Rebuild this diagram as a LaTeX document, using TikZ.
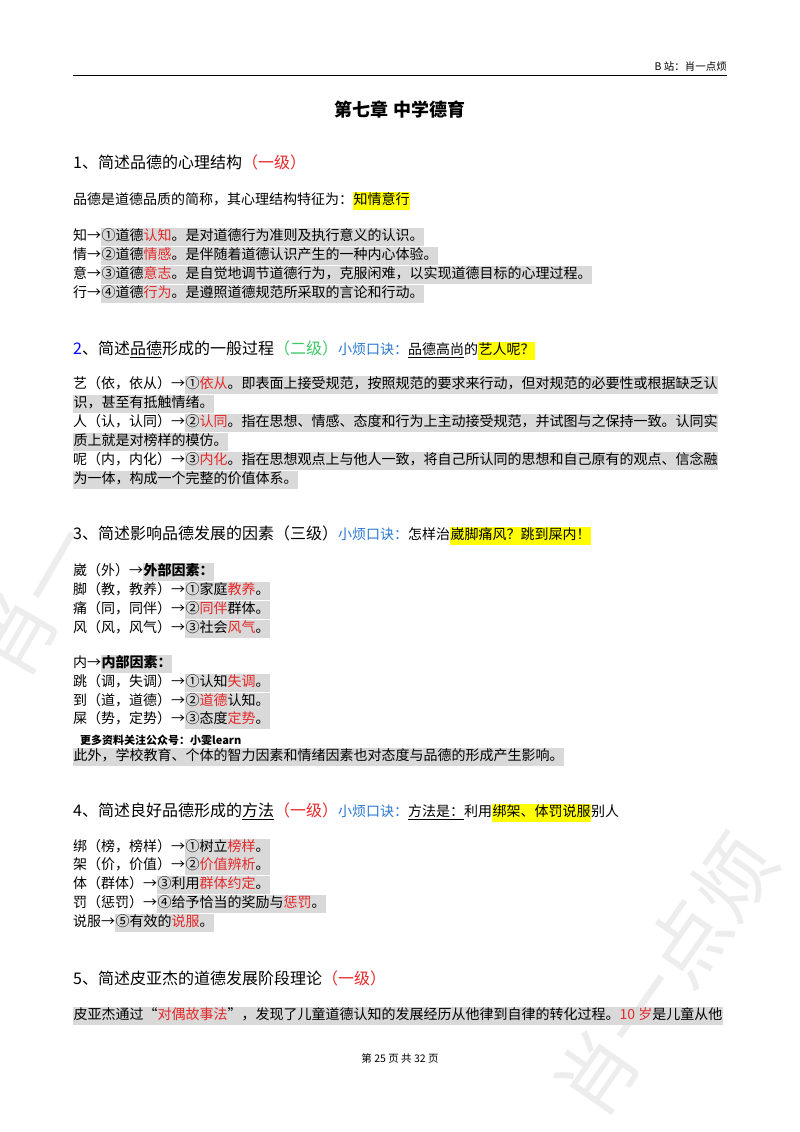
\documentclass[tikz,border=0pt]{standalone}
\usepackage{fontspec}
\setmainfont{Noto Sans CJK SC}
\definecolor{hlgray}{RGB}{217,217,217}
\definecolor{kred}{RGB}{230,40,40}
\definecolor{kblue}{RGB}{40,120,210}
\definecolor{kgreen}{RGB}{60,200,100}
\definecolor{kyel}{RGB}{255,255,0}
\newcommand{\hg}[1]{{\setlength{\fboxsep}{0.5pt}\colorbox{hlgray}{\strut #1}}}
\newcommand{\hy}[1]{{\setlength{\fboxsep}{0.5pt}\colorbox{kyel}{\strut #1}}}
\newcommand{\rd}[1]{\textcolor{kred}{#1}}
\newcommand{\bodysz}{\fontsize{14}{16}\selectfont}
\begin{document}
\begin{tikzpicture}[x=1pt,y=1pt,
  ln/.style={anchor=west,inner sep=0pt,font=\bodysz},
  hd/.style={anchor=west,inner sep=0pt,font=\fontsize{16}{18}\selectfont},
  wm/.style={text=black!7,font=\fontsize{80}{80}\selectfont}]
\useasboundingbox[fill=white] (0,0) rectangle (800,-1132);
\node[wm,rotate=60] (w1) at (35,-600) {肖一};
\node[wm,rotate=55] (w2) at (665,-975) {肖一点烦};
\node[anchor=east,inner sep=0pt,font=\fontsize{10.5}{12}\selectfont] (hdr) at (727,-67) {B 站：肖一点烦};
\draw[line width=0.6pt] (73,-75) -- (727,-75);
\node[inner sep=0pt,font=\fontsize{18}{20}\selectfont\bfseries] (title) at (400,-110) {第七章\ 中学德育};
\node[hd] (h1) at (73,-162) {1、简述品德的心理结构\rd{（一级）}};
\node[ln] (a0) at (73,-201) {品德是道德品质的简称，其心理结构特征为：\hy{知情意行}};
\node[ln] (a1) at (73,-237) {知→\hg{①道德\rd{认知}。是对道德行为准则及执行意义的认识。}};
\node[ln] (a2) at (73,-256) {情→\hg{②道德\rd{情感}。是伴随着道德认识产生的一种内心体验。}};
\node[ln] (a3) at (73,-275) {意→\hg{③道德\rd{意志}。是自觉地调节道德行为，克服闲难，以实现道德目标的心理过程。}};
\node[ln] (a4) at (73,-294) {行→\hg{④道德\rd{行为}。是遵照道德规范所采取的言论和行动。}};
\node[hd] (h2) at (73,-350) {\textcolor{blue}{2}、简述\underline{品德}形成的一般过程\textcolor{kgreen}{（二级）}\textcolor{kblue}{\bodysz 小烦口诀：}{\bodysz\underline{品德高尚}的\hy{艺人呢？}}};
\node[ln] (b1) at (73,-385) {艺（依，依从）→\hg{①\rd{依从}。即表面上接受规范，按照规范的要求来行动，但对规范的必要性或根据缺乏认}};
\node[ln] (b1b) at (73,-404) {\hg{识，甚至有抵触情绪。}};
\node[ln] (b2) at (73,-423) {人（认，认同）→\hg{②\rd{认同}。指在思想、情感、态度和行为上主动接受规范，并试图与之保持一致。认同实}};
\node[ln] (b2b) at (73,-442) {\hg{质上就是对榜样的模仿。}};
\node[ln] (b3) at (73,-461) {呢（内，内化）→\hg{③\rd{内化}。指在思想观点上与他人一致，将自己所认同的思想和自己原有的观点、信念融}};
\node[ln] (b3b) at (73,-480) {\hg{为一体，构成一个完整的价值体系。}};
\node[hd] (h3) at (73,-535) {3、简述影响品德发展的因素（三级）\textcolor{kblue}{\bodysz 小烦口诀：}{\bodysz 怎样治\hy{崴脚痛风？跳到屎内！}}};
\node[ln] (c0) at (73,-572) {崴（外）→\hg{\textbf{外部因素：}}};
\node[ln] (c1) at (73,-591) {脚（教，教养）→\hg{①家庭\rd{教养}。}};
\node[ln] (c2) at (73,-610) {痛（同，同伴）→\hg{②\rd{同伴}群体。}};
\node[ln] (c3) at (73,-629) {风（风，风气）→\hg{③社会\rd{风气}。}};
\node[ln] (d0) at (73,-664) {内→\hg{\textbf{内部因素：}}};
\node[ln] (d1) at (73,-683) {跳（调，失调）→\hg{①认知\rd{失调}。}};
\node[ln] (d2) at (73,-702) {到（道，道德）→\hg{②\rd{道德}认知。}};
\node[ln] (d3) at (73,-720) {屎（势，定势）→\hg{③态度\rd{定势}。}};
\node[anchor=west,inner sep=0pt,font=\fontsize{11}{12}\selectfont\bfseries] (more) at (80,-740) {更多资料关注公众号：小雯learn};
\node[ln] (d4) at (73,-757) {\hg{此外，学校教育、个体的智力因素和情绪因素也对态度与品德的形成产生影响。}};
\node[hd] (h4) at (73,-812) {4、简述良好品德形成的\underline{方法}\rd{（一级）}\textcolor{kblue}{\bodysz 小烦口诀：}{\bodysz\underline{方法是：}利用\hy{绑架、体罚说服}别人}};
\node[ln] (e1) at (73,-848) {绑（榜，榜样）→\hg{①树立\rd{榜样}。}};
\node[ln] (e2) at (73,-866) {架（价，价值）→\hg{②\rd{价值辨析}。}};
\node[ln] (e3) at (73,-885) {体（群体）→\hg{③利用\rd{群体约定}。}};
\node[ln] (e4) at (73,-904) {罚（惩罚）→\hg{④给予恰当的奖励与\rd{惩罚}。}};
\node[ln] (e5) at (73,-923) {说服→\hg{⑤有效的\rd{说服}。}};
\node[hd] (h5) at (73,-978) {5、简述皮亚杰的道德发展阶段理论\rd{（一级）}};
\node[ln] (f1) at (73,-1016) {\hg{皮亚杰通过“\rd{对偶故事法}”，发现了儿童道德认知的发展经历从他律到自律的转化过程。\rd{10 岁}是儿童从他}};
\node[inner sep=0pt,font=\fontsize{10.5}{12}\selectfont] (foot) at (400,-1058) {第 25 页 共 32 页};
\end{tikzpicture}
\end{document}
